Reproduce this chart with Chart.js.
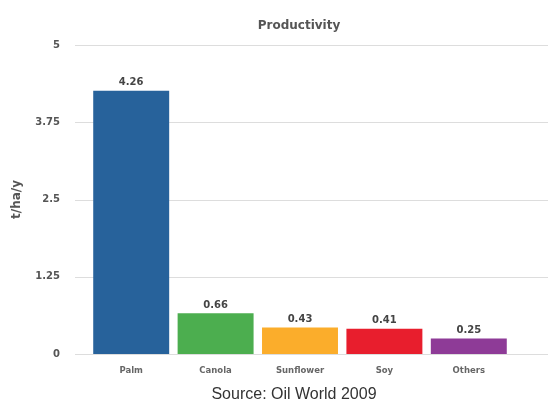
<!DOCTYPE html>
<html>
<head>
<meta charset="utf-8">
<script src="https://cdn.jsdelivr.net/npm/chart.js@4/dist/chart.umd.min.js"></script>
<style>
  html, body { margin: 0; padding: 0; background: #fff; }
  #wrap { width: 556px; height: 409px; }
</style>
</head>
<body>
<div id="wrap"><canvas id="prodChart"></canvas></div>
<script>
// data
const crops = ["Palm", "Canola", "Sunflower", "Soy", "Others"];
const yieldValues = [4.26, 0.66, 0.43, 0.41, 0.25];
const barColors = ["#27629b", "#4cae4f", "#fbad2b", "#e81e2d", "#8e3b97"];
const yTicks = [0, 1.25, 2.5, 3.75, 5];
const chartTitle = "Productivity";
const sourceNote = "Source: Oil World 2009";

const sans = "'DejaVu Sans', Verdana, sans-serif";

// value labels on top of each bar
const valueLabels = {
	id: "valueLabels",
	afterDatasetsDraw(chart) {
		const ctx = chart.ctx;
		const meta = chart.getDatasetMeta(0);
		ctx.save();
		ctx.font = "bold 10px " + sans;
		ctx.fillStyle = "#444";
		ctx.textAlign = "center";
		ctx.textBaseline = "bottom";
		meta.data.forEach(function (bar, i) {
			ctx.fillText(yieldValues[i].toFixed(2), bar.x, bar.y - 3);
		});
		ctx.restore();
	},
};

// horizontal grid lines run a bit wider than the bars area
const wideGrid = {
	id: "wideGrid",
	beforeDatasetsDraw(chart) {
		const ctx = chart.ctx;
		const y = chart.scales.y;
		const area = chart.chartArea;
		ctx.save();
		ctx.strokeStyle = "#dddddd";
		ctx.lineWidth = 1;
		y.ticks.forEach(function (t) {
			const py = Math.round(y.getPixelForValue(t.value)) + 0.5;
			ctx.beginPath();
			ctx.moveTo(area.left - 14, py);
			ctx.lineTo(area.right + 37, py);
			ctx.stroke();
		});
		ctx.restore();
	},
};

// title centred over the plot, source note under the chart
const headings = {
	id: "headings",
	afterDraw(chart) {
		const ctx = chart.ctx;
		const area = chart.chartArea;
		const mid = (area.left + area.right) / 2;
		ctx.save();
		ctx.textAlign = "center";
		ctx.textBaseline = "middle";
		ctx.fillStyle = "#555";
		ctx.font = "bold 12px " + sans;
		ctx.fillText(chartTitle, mid - 1, area.top - 19);
		ctx.fillStyle = "#333";
		ctx.font = "16px Arial, 'Liberation Sans', sans-serif";
		ctx.fillText(sourceNote, mid - 6, area.bottom + 41);
		ctx.restore();
	},
};

const prodChart = new Chart(document.getElementById("prodChart"), {
	type: "bar",
	data: {
		labels: crops,
		datasets: [
			{
				data: yieldValues,
				backgroundColor: barColors,
				barPercentage: 0.9,
				categoryPercentage: 1.0,
			},
		],
	},
	options: {
		responsive: true,
		maintainAspectRatio: false,
		animation: false,
		layout: { padding: { top: 45, right: 45, left: 10, bottom: 30 } },
		plugins: {
			legend: { display: false },
			tooltip: { enabled: false },
			title: { display: false },
		},
		scales: {
			x: {
				grid: { display: false },
				border: { display: false },
				afterFit(scale) {
					scale.height = 25;
				},
				ticks: {
					color: "#666",
					font: { family: sans, size: 8.5, weight: "bold" },
					padding: 4,
				},
			},
			y: {
				min: 0,
				max: 5,
				afterBuildTicks(scale) {
					scale.ticks = yTicks.map(function (v) { return { value: v }; });
				},
				afterFit(scale) {
					scale.width = 79;
				},
				grid: { display: false },
				border: { display: false },
				ticks: {
					color: "#555",
					padding: 21,
					font: { family: sans, size: 10, weight: "bold" },
					callback: function (v) { return String(v); },
				},
				title: {
					display: true,
					text: "t/ha/y",
					color: "#555",
					font: { family: sans, size: 12, weight: "bold" },
					padding: { top: 0, bottom: 0 },
				},
			},
		},
	},
	plugins: [wideGrid, valueLabels, headings],
});
</script>
</body>
</html>
